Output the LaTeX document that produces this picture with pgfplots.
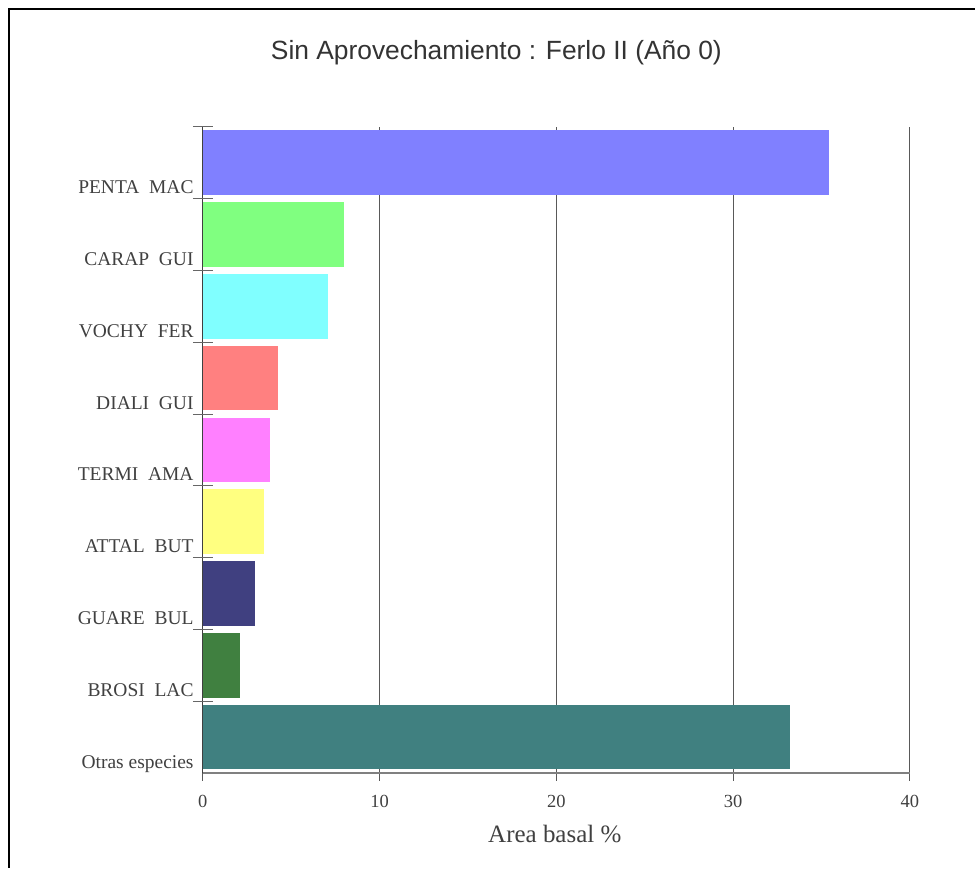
\documentclass[border=0pt]{standalone}
\usepackage{fontspec}
\setmainfont{Liberation Serif}
\newfontfamily\sansf{Liberation Sans}
\usepackage{pgfplots}
\pgfplotsset{compat=1.18}
\pgfplotsset{layers/mylayers/.define layer set={axis background,axis grid,main,axis ticks,axis lines,axis tick labels,axis descriptions,axis foreground}{}}
\definecolor{cPENTA}{HTML}{8080FF}
\definecolor{cCARAP}{HTML}{80FF80}
\definecolor{cVOCHY}{HTML}{80FFFF}
\definecolor{cDIALI}{HTML}{FF8080}
\definecolor{cTERMI}{HTML}{FF80FF}
\definecolor{cATTAL}{HTML}{FFFF80}
\definecolor{cGUARE}{HTML}{404080}
\definecolor{cBROSI}{HTML}{408040}
\definecolor{cOTRAS}{HTML}{408080}
\definecolor{txt}{HTML}{404040}
\begin{document}
\begin{tikzpicture}[x=1pt,y=1pt]
\path (0,0) rectangle (976,869);
\draw[line width=2.5pt] (9,0) -- (9,860) -- (976,860);
\begin{axis}[
  set layers=mylayers,
  at={(203pt,95pt)}, anchor=south west,
  scale only axis, width=708pt, height=647pt,
  xmin=0, xmax=40, ymin=-0.5, ymax=8.5,
  axis x line*=bottom, axis y line*=left,
  x axis line style={draw=black!50, line width=1.3pt},
  y axis line style={draw=black!75, line width=1pt},
  xbar, bar width=0.9, bar shift=0pt,
  xtick={0,10,20,30,40},
  xmajorgrids, major grid style={draw=black!65, line width=0.9pt},
  x tick style={draw=black!65, line width=0.9pt},
  xtick align=center, major tick length=16pt,
  xticklabel style={anchor=base, inner sep=0pt, yshift=-27pt, font=\fontsize{18.5}{20}\selectfont, text=txt},
  /pgf/number format/assume math mode=true,
  ytick={0,...,8},
  yticklabels={Otras especies, BROSI\ \ LAC, GUARE\ \ BUL, ATTAL\ \ BUT, TERMI\ \ AMA, DIALI\ \ GUI, VOCHY\ \ FER, CARAP\ \ GUI, PENTA\ \ MAC},
  y tick style={draw=none},
  yticklabel style={anchor=base east, inner sep=0pt, xshift=7pt, yshift=-31pt, font=\fontsize{19.5}{21}\selectfont, text=txt},
  extra y ticks={0.5,1.5,2.5,3.5,4.5,5.5,6.5,7.5,8.5},
  extra y tick labels={},
  extra y tick style={tick align=center, major tick length=20pt, y tick style={draw=black!60, line width=1pt}},
]
\addplot[fill=cPENTA, draw=none] coordinates {(35.4,8)};
\addplot[fill=cCARAP, draw=none] coordinates {(8.0,7)};
\addplot[fill=cVOCHY, draw=none] coordinates {(7.06,6)};
\addplot[fill=cDIALI, draw=none] coordinates {(4.24,5)};
\addplot[fill=cTERMI, draw=none] coordinates {(3.79,4)};
\addplot[fill=cATTAL, draw=none] coordinates {(3.45,3)};
\addplot[fill=cGUARE, draw=none] coordinates {(2.94,2)};
\addplot[fill=cBROSI, draw=none] coordinates {(2.09,1)};
\addplot[fill=cOTRAS, draw=none] coordinates {(33.2,0)};
\end{axis}
\node[anchor=base, inner sep=0pt, text=black!80, font=\sansf\fontsize{26.4}{29}\selectfont] at (497,809) {Sin Aprovechamiento : Ferlo II (Año 0)};
\node[anchor=base, inner sep=0pt, text=txt, font=\fontsize{25}{28}\selectfont] at (555.5,25) {Area basal \%};
\end{tikzpicture}
\end{document}
